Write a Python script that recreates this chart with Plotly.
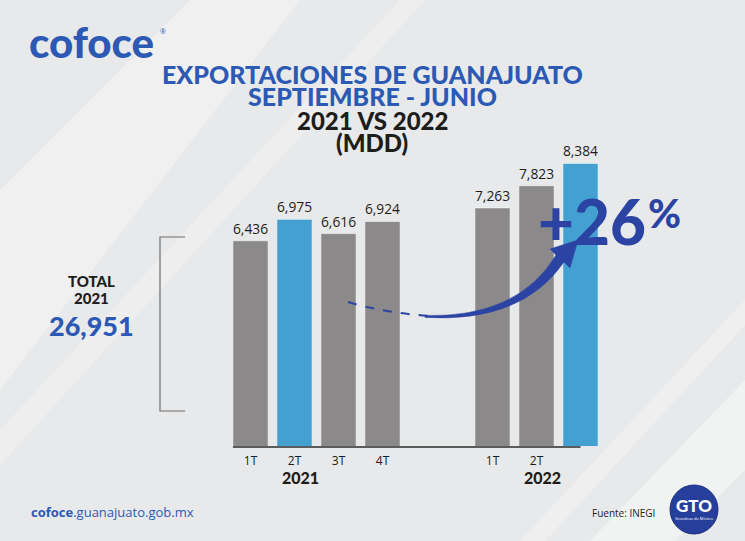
import plotly.graph_objects as go

# ---------------- data ----------------
tick_labels = ["1T", "2T", "3T", "4T", "1T", "2T", ""]
years = ["2021", "2021", "2021", "2021", "2022", "2022", "2022"]
values = [6436, 6975, 6616, 6924, 7263, 7823, 8384]
highlight = [False, True, False, False, False, False, True]
year_labels = ["2021", "2022"]
growth_label = "+26"

# ---------------- styling ----------------
GRAY = "#8b898a"
BLUE = "#43a0d1"
TITLE_BLUE = "#2c59b4"
DARK = "#1d1d1b"
ARROW_BLUE = "#2b44a3"
FONT = "Open Sans"
HEAVY = "Lato"

FIG_W, FIG_H = 745, 541
L, R, T, Bm = 150, 95, 140, 95
W = FIG_W - L - R
H = FIG_H - T - Bm
BASE = FIG_H - Bm


def px(x):
    return (x - L) / W


def py(y):
    return (BASE - y) / H


def path(cmds):
    out = []
    for c in cmds:
        if isinstance(c, str):
            out.append(c)
        else:
            out.append(f"{px(c[0]):.4f},{py(c[1]):.4f}")
    return " ".join(out)


# x positions: quarters inside a year, with a gap between years
GAP = 1.5
xpos = []
prev_year = None
cur = -1
for yv in years:
    if prev_year is not None and yv != prev_year:
        cur += 1 + GAP
    else:
        cur += 1
    xpos.append(cur)
    prev_year = yv

group_start = {}
for yv, xv in zip(years, xpos):
    group_start.setdefault(yv, xv)

colors = [BLUE if h else GRAY for h in highlight]
total_2021 = sum(v for v, yv in zip(values, years) if yv == "2021")

fig = go.Figure()
fig.add_trace(go.Bar(
    x=xpos, y=values, width=0.8,
    marker=dict(color=colors, line=dict(color="rgba(255,255,255,0.55)", width=1)),
    texttemplate="%{y:,.0f}", textposition="outside",
    textfont=dict(family=FONT, size=17, color=DARK),
    cliponaxis=False, hoverinfo="skip",
))

unit = 44.0
x0 = xpos[0] - (250.5 - L) / unit
fig.update_xaxes(range=[x0, x0 + W / unit], tickvals=xpos, ticktext=tick_labels,
                 tickfont=dict(family=FONT, size=12, color=DARK),
                 ticklabelstandoff=6,
                 showgrid=False, zeroline=False, showline=False, ticks="")
fig.update_yaxes(range=[1266, 8974], visible=False, showgrid=False)

shapes = []
# background light stripes
for pts, op in [
    ([(0, 190), (190, 0), (300, 0), (0, 390)], 0.35),
    ([(0, 430), (400, 0), (425, 0), (0, 465)], 0.25),
    ([(590, 541), (745, 380), (745, 470), (675, 541)], 0.4),
    ([(520, 541), (745, 300), (745, 325), (545, 541)], 0.3),
]:
    cmds = ["M", pts[0]] + sum([["L", p] for p in pts[1:]], []) + ["Z"]
    shapes.append(dict(type="path", xref="paper", yref="paper", layer="below",
                       path=path(cmds), fillcolor=f"rgba(255,255,255,{op})",
                       line=dict(width=0)))

# baseline
shapes.append(dict(type="line", xref="x", yref="paper", x0=xpos[0] - 0.4,
                   x1=xpos[-1], y0=py(447), y1=py(447),
                   line=dict(color="#2b2b2b", width=1.5)))

# bracket next to total
shapes.append(dict(type="path", xref="paper", yref="paper",
                   path=path(["M", (185, 237), "L", (160, 237), "L", (160, 411), "L", (185, 411)]),
                   line=dict(color="#6d6d6d", width=1.2)))

# dashed part of the arrow
shapes.append(dict(type="path", xref="paper", yref="paper",
                   path=path(["M", (348, 302), "Q", (385, 313), (430, 316)]),
                   line=dict(color=ARROW_BLUE, width=2, dash="dash")))
# solid tapered arrow
shapes.append(dict(type="path", xref="paper", yref="paper",
                   path=path(["M", (425, 315.5), "Q", (518, 318), (556, 255),
                              "L", (550, 249), "L", (578, 240), "L", (570, 268),
                              "L", (564, 262), "Q", (522, 323), (425, 317.5), "Z"]),
                   fillcolor=ARROW_BLUE, line=dict(color=ARROW_BLUE, width=0.5)))

# GTO logo circle
shapes.append(dict(type="circle", xref="paper", yref="paper",
                   x0=px(670), x1=px(718), y0=py(534), y1=py(485),
                   fillcolor="#273f9c", line=dict(color="#1e2f7a", width=1)))

annotations = []


def ann(text, x, y, size, color=DARK, weight="normal", xanchor="center", family=FONT, **kw):
    annotations.append(dict(
        text=text, x=px(x), y=py(y), xref="paper", yref="paper",
        showarrow=False, xanchor=xanchor, yanchor="middle",
        font=dict(family=family, size=size, color=color, weight=weight), **kw))


# logo
ann("cofoce", 27, 42, 42, TITLE_BLUE, 900, xanchor="left", family=HEAVY)
ann("®", 158, 32, 7, TITLE_BLUE, xanchor="left")

# titles
ann("EXPORTACIONES DE GUANAJUATO", 372, 74, 25, TITLE_BLUE, 900, family=HEAVY)
ann("SEPTIEMBRE - JUNIO", 372, 96, 25, TITLE_BLUE, 900, family=HEAVY)
ann("2021 VS 2022", 372, 120, 24, DARK, 900, family=HEAVY)
ann("(MDD)", 372, 142, 24, DARK, 900, family=HEAVY)

# total
ann("TOTAL", 91, 281, 15, DARK, 900, family=HEAVY)
ann("2021", 91, 298, 15, DARK, 900, family=HEAVY)
ann(f"{total_2021:,}", 91, 325, 27, TITLE_BLUE, 900, family=HEAVY)

# year labels
for yl in year_labels:
    annotations.append(dict(text=yl, x=group_start[yl] + 1.125, y=py(477),
                            xref="x", yref="paper", showarrow=False, yanchor="middle",
                            font=dict(family=HEAVY, size=16, color=DARK, weight=900)))

# growth
ann(growth_label, 536, 221, 62, ARROW_BLUE, 900, xanchor="left", family=HEAVY)
ann("%", 646, 213, 40, ARROW_BLUE, 900, xanchor="left", family=HEAVY)

# footer
ann("<b>cofoce</b>.guanajuato.gob.mx", 29, 512, 13, TITLE_BLUE, xanchor="left")
ann("Fuente: INEGI", 590, 513, 10, DARK, xanchor="left")
ann("GTO", 694, 505, 17, "white", 900, family=HEAVY)
ann("Grandeza de México", 694, 518, 4, "white")

fig.update_layout(
    width=FIG_W, height=FIG_H,
    margin=dict(l=L, r=R, t=T, b=Bm),
    paper_bgcolor="#e8e9ea", plot_bgcolor="rgba(0,0,0,0)",
    showlegend=False, shapes=shapes, annotations=annotations,
    bargap=0.2,
)

fig.write_html("out.html", config={"displayModeBar": False},
               post_script="document.body.style.margin='0';")
